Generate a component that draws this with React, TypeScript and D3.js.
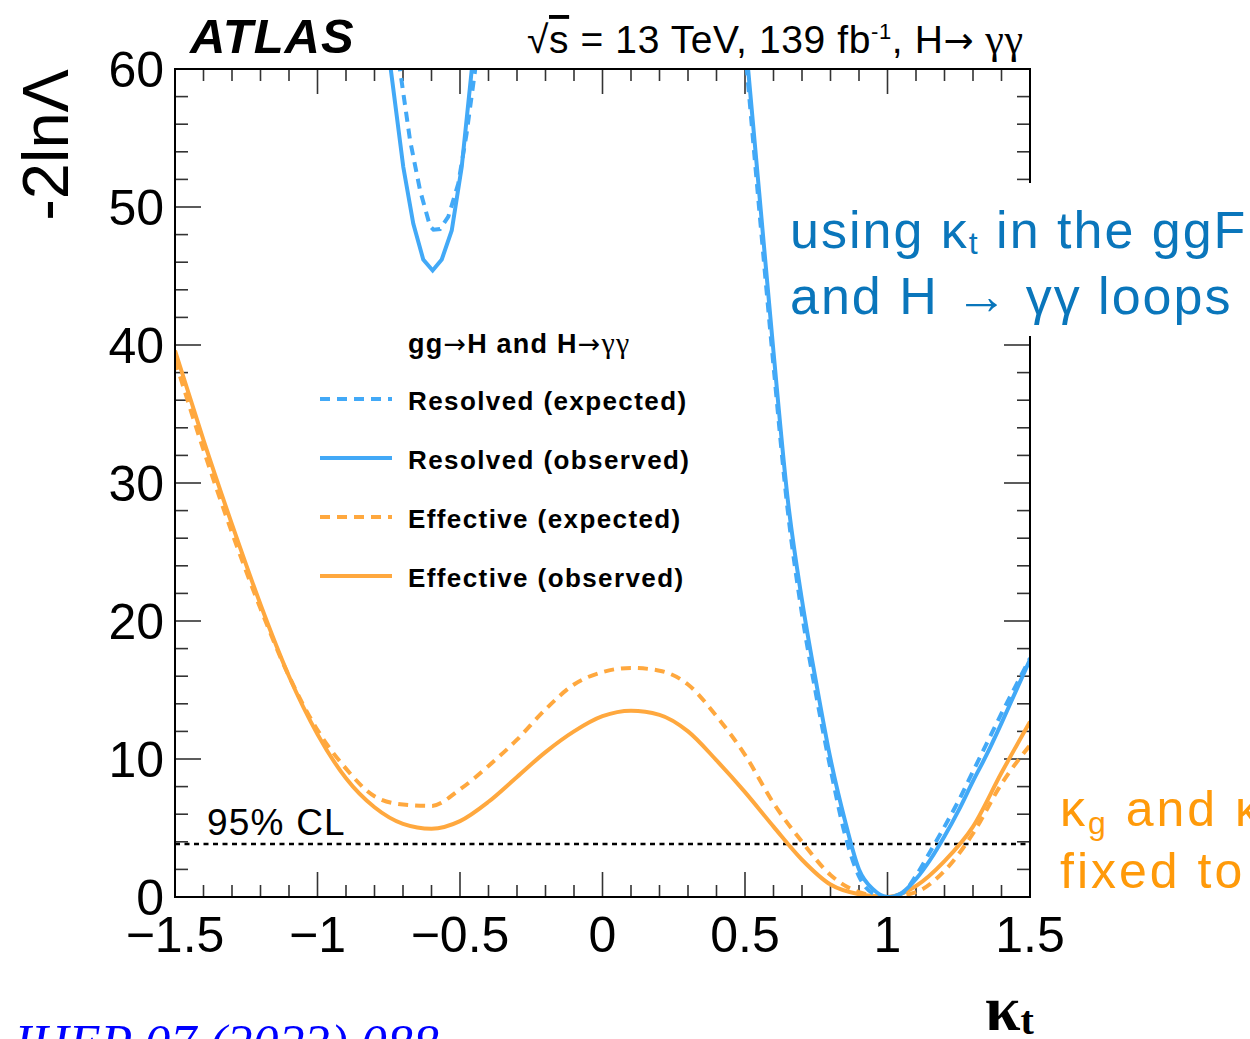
import React from 'react';
import * as d3 from 'd3';

const W = 1250;
const H = 1039;
const PL = 175, PR = 1030, PT = 69, PB = 897;

// kappa_t grid for the "Effective" curves
const kappaEff = [-1.5, -1.4, -1.3, -1.2, -1.1, -1.0, -0.9, -0.8, -0.7, -0.6, -0.5, -0.4, -0.3, -0.2, -0.1, 0.0, 0.1, 0.2, 0.3, 0.4, 0.5, 0.6, 0.7, 0.8, 0.9, 1.0, 1.1, 1.2, 1.3, 1.4, 1.5];
const effObserved = [39.6, 33.1, 27.0, 21.2, 16.0, 11.8, 8.6, 6.5, 5.3, 4.95, 5.5, 6.9, 8.7, 10.5, 12.0, 13.1, 13.5, 13.2, 12.0, 9.9, 7.6, 5.1, 2.7, 0.9, 0.2, 0.0, 0.8, 2.6, 5.1, 9.0, 12.7];
const effExpected = [38.9, 32.4, 26.4, 20.9, 16.0, 12.1, 9.3, 7.3, 6.7, 6.6, 7.8, 9.5, 11.4, 13.6, 15.4, 16.3, 16.6, 16.4, 15.4, 13.1, 10.3, 6.8, 4.0, 1.6, 0.35, 0.0, 0.35, 1.9, 4.6, 8.2, 11.0];

// Resolved: secondary pocket near kappa_t ~ -0.6
const kappaResObsLeft = [-0.76, -0.743, -0.699, -0.664, -0.629, -0.596, -0.564, -0.529, -0.494, -0.459, -0.445];
const resObservedLeft = [63.0, 60.0, 52.9, 48.8, 46.2, 45.4, 46.2, 48.3, 52.9, 59.9, 62.5];
const kappaResExpLeft = [-0.73, -0.711, -0.675, -0.640, -0.605, -0.593, -0.570, -0.541, -0.506, -0.477, -0.447, -0.44];
const resExpectedLeft = [63.0, 60.0, 54.8, 51.2, 48.6, 48.35, 48.4, 49.3, 51.7, 55.3, 59.9, 61.5];

// Resolved: main minimum near kappa_t ~ 1
const kappaResRight = [0.50, 0.55, 0.60, 0.65, 0.70, 0.75, 0.80, 0.85, 0.90, 0.95, 1.0, 1.05, 1.10, 1.15, 1.20, 1.25, 1.30, 1.35, 1.40, 1.45, 1.50];
const resObservedRight = [62.5, 51.0, 39.5, 28.8, 21.5, 15.5, 10.0, 5.6, 2.0, 0.55, 0.0, 0.3, 1.3, 2.7, 4.4, 6.3, 8.4, 10.4, 12.6, 14.9, 17.2];
const resExpectedRight = [61.5, 49.8, 38.5, 28.0, 20.5, 14.6, 9.3, 4.6, 1.5, 0.25, 0.0, 0.25, 1.55, 3.3, 5.1, 7.0, 9.1, 11.2, 13.3, 15.3, 17.3];

const cl95 = 3.84;
const xMajorTicks = [-1.5, -1.0, -0.5, 0, 0.5, 1.0, 1.5];
const xTickLabels = ['\u22121.5', '\u22121', '\u22120.5', '0', '0.5', '1', '1.5'];
const yMajorTicks = [0, 10, 20, 30, 40, 50, 60];

const BLUE = '#42a9f7';
const ORANGE = '#ffa83e';
const FONT = "'Liberation Sans', Arial, Helvetica, sans-serif";

const legendItems = [
  { label: 'Resolved (expected)', color: BLUE, dash: '10 7' },
  { label: 'Resolved (observed)', color: BLUE, dash: null },
  { label: 'Effective (expected)', color: ORANGE, dash: '10 7' },
  { label: 'Effective (observed)', color: ORANGE, dash: null },
];

export default function App() {
  const x = d3.scaleLinear().domain([-1.5, 1.5]).range([PL, PR]);
  const y = d3.scaleLinear().domain([0, 60]).range([PB, PT]);

  const smooth = d3.line<[number, number]>().x(d => x(d[0])).y(d => y(d[1])).curve(d3.curveMonotoneX);
  const straight = d3.line<[number, number]>().x(d => x(d[0])).y(d => y(d[1])).curve(d3.curveLinear);
  const zip = (ks: number[], vs: number[]) => ks.map((k, i) => [k, vs[i]] as [number, number]);

  const xMinor = d3.range(-15, 16).map(i => i / 10).filter(v => Math.abs(v * 2 - Math.round(v * 2)) > 1e-6);
  const yMinor = d3.range(0, 61, 2).filter(v => v % 10 !== 0);

  const tickColor = '#333';

  return (
    <svg width={W} height={H} style={{ position: 'fixed', left: 0, top: 0, background: '#fff' }} fontFamily={FONT}>
      <defs>
        <clipPath id="plotClip">
          <rect x={PL} y={PT} width={PR - PL} height={PB - PT} />
        </clipPath>
      </defs>
      <rect x={0} y={0} width={W} height={H} fill="#fff" />

      {/* ticks */}
      <g stroke={tickColor} strokeWidth={1.6}>
        {xMajorTicks.map(t => (
          <g key={'xM' + t}>
            <line x1={x(t)} x2={x(t)} y1={PB} y2={PB - 25} />
            <line x1={x(t)} x2={x(t)} y1={PT} y2={PT + 25} />
          </g>
        ))}
        {xMinor.map(t => (
          <g key={'xm' + t}>
            <line x1={x(t)} x2={x(t)} y1={PB} y2={PB - 12} />
            <line x1={x(t)} x2={x(t)} y1={PT} y2={PT + 12} />
          </g>
        ))}
        {yMajorTicks.map(t => (
          <g key={'yM' + t}>
            <line x1={PL} x2={PL + 26} y1={y(t)} y2={y(t)} />
            <line x1={PR} x2={PR - 26} y1={y(t)} y2={y(t)} />
          </g>
        ))}
        {yMinor.map(t => (
          <g key={'ym' + t}>
            <line x1={PL} x2={PL + 13} y1={y(t)} y2={y(t)} />
            <line x1={PR} x2={PR - 13} y1={y(t)} y2={y(t)} />
          </g>
        ))}
      </g>

      {/* 95% CL line */}
      <line x1={PL} x2={PR} y1={y(cl95)} y2={y(cl95)} stroke="#000" strokeWidth={2.4} strokeDasharray="5 4.5" />
      <text x={207} y={835} fontSize={37} letterSpacing={1.2} fill="#000">95% CL</text>

      {/* curves */}
      <g clipPath="url(#plotClip)" fill="none" strokeWidth={4}>
        <path d={smooth(zip(kappaEff, effExpected)) || ''} stroke={ORANGE} strokeDasharray="10 7" />
        <path d={smooth(zip(kappaEff, effObserved)) || ''} stroke={ORANGE} />
        <path d={straight(zip(kappaResExpLeft, resExpectedLeft)) || ''} stroke={BLUE} strokeDasharray="10 7" />
        <path d={straight(zip(kappaResObsLeft, resObservedLeft)) || ''} stroke={BLUE} />
        <path d={smooth(zip(kappaResRight, resExpectedRight)) || ''} stroke={BLUE} strokeDasharray="10 7" />
        <path d={smooth(zip(kappaResRight, resObservedRight)) || ''} stroke={BLUE} />
      </g>

      {/* frame */}
      <rect x={PL} y={PT} width={PR - PL} height={PB - PT} fill="none" stroke="#000" strokeWidth={2} />

      {/* tick labels */}
      {xMajorTicks.map((t, i) => (
        <text key={'xl' + t} x={x(t)} y={952} fontSize={50} textAnchor="middle" fill="#000">{xTickLabels[i]}</text>
      ))}
      {yMajorTicks.map(t => (
        <text key={'yl' + t} x={164} y={y(t) + 18} fontSize={50} textAnchor="end" fill="#000">{t}</text>
      ))}

      {/* y axis title */}
      <text transform={`translate(68, ${PT}) rotate(-90)`} fontSize={65} textAnchor="end" fill="#000">-2ln{'\u039B'}</text>

      {/* ATLAS label */}
      <text x={190} y={53} fontSize={49} letterSpacing={1} fontWeight="bold" fontStyle="italic" fill="#000">ATLAS</text>

      {/* energy / lumi label */}
      <text x={527} y={53} fontSize={39} letterSpacing={0.6} fill="#000">
        <tspan>{'\u221A'}</tspan>
        <tspan style={{ textDecoration: 'overline' }}>s</tspan>
        <tspan> = 13 TeV, 139 fb</tspan>
        <tspan dy={-14} fontSize={22}>-1</tspan>
        <tspan dy={14}>, H</tspan>
        <tspan fontFamily="'DejaVu Sans', sans-serif" fontSize={36}>{'\u2192'}</tspan>
        <tspan fontFamily="'Liberation Serif', 'DejaVu Serif', serif" fontSize={42}> {'\u03B3\u03B3'}</tspan>
      </text>

      {/* legend */}
      <text x={408} y={353} fontSize={27} letterSpacing={1.2} fontWeight="bold" fill="#000">
        gg<tspan fontWeight="normal" fontFamily="'DejaVu Sans', sans-serif">{'\u2192'}</tspan>H and H<tspan fontWeight="normal" fontFamily="'DejaVu Sans', sans-serif">{'\u2192'}</tspan><tspan fontWeight="normal" fontSize={30} fontFamily="'Liberation Serif', serif">{'\u03B3\u03B3'}</tspan>
      </text>
      {legendItems.map((it, i) => {
        const ly = 399 + i * 59;
        return (
          <g key={it.label}>
            <line x1={320} x2={392} y1={ly} y2={ly} stroke={it.color} strokeWidth={4} strokeDasharray={it.dash || undefined} />
            <text x={408} y={ly + 11} fontSize={26} letterSpacing={1.4} fontWeight="bold" fill="#000">{it.label}</text>
          </g>
        );
      })}

      {/* blue annotation box */}
      <rect x={780} y={183} width={W - 780} height={153} fill="#fff" />
      <text x={790} y={248} fontSize={52} letterSpacing={2} fill="#0a76bb">
        using {'\u03BA'}<tspan fontSize={32} dy={6}>t</tspan><tspan dy={-6}> in the ggF</tspan>
      </text>
      <text x={790} y={314} fontSize={52} letterSpacing={2} fill="#0a76bb">and H  {'\u2192'}  {'\u03B3\u03B3'} loops</text>

      {/* orange annotation */}
      <text x={1060} y={826} fontSize={50} letterSpacing={3} fill="#ff9a0a">
        {'\u03BA'}<tspan fontSize={32} dy={8}>g</tspan><tspan dy={-8}> and {'\u03BA'}</tspan><tspan fontSize={32} dy={8}>{'\u03B3'}</tspan>
      </text>
      <text x={1060} y={888} fontSize={50} letterSpacing={3} fill="#ff9a0a">fixed to 1</text>

      {/* x axis title (partially visible) */}
      <text x={985} y={1030} fontSize={64} fontWeight="bold" fontFamily="'Liberation Serif', serif" fill="#000">
        {'\u03BA'}<tspan fontSize={40} dy={4}>t</tspan>
      </text>

      {/* reference */}
      <text x={8} y={1061} fontSize={52} fontStyle="italic" fontFamily="'Liberation Serif', serif" fill="#0000ff">JHEP 07 (2023) 088</text>
    </svg>
  );
}
